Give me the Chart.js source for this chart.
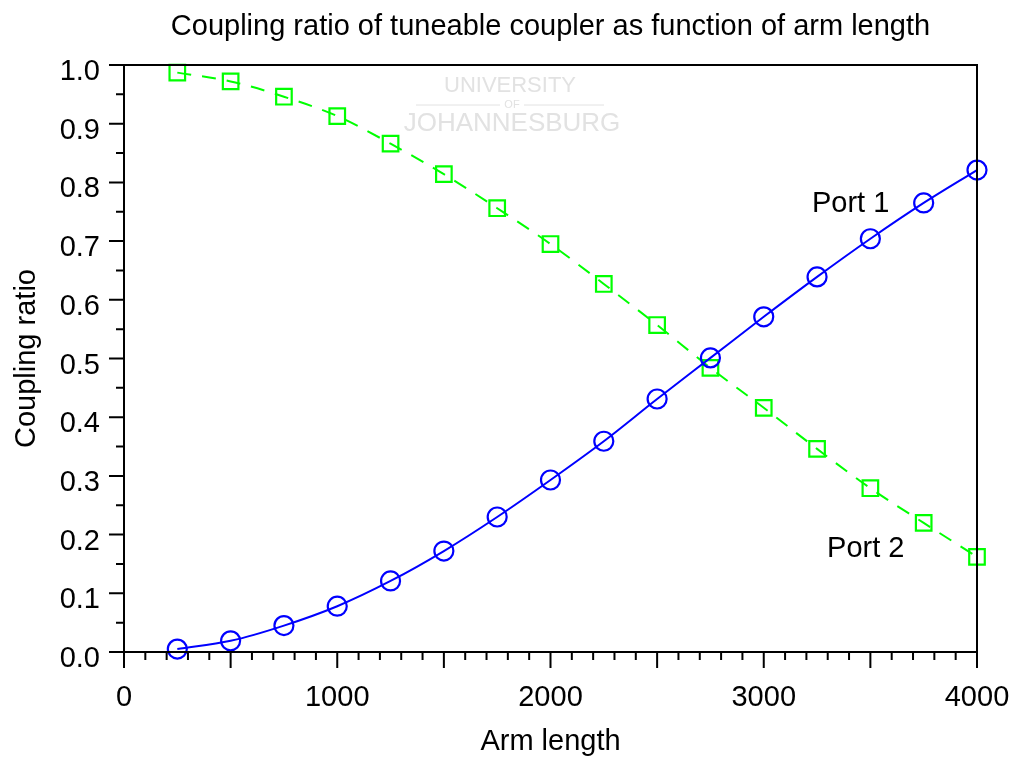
<!DOCTYPE html>
<html>
<head>
<meta charset="utf-8">
<script src="https://cdn.jsdelivr.net/npm/chart.js@4.4.1/dist/chart.umd.min.js"></script>
<style>
  html, body { margin: 0; padding: 0; background: #fff; }
  #wrap { width: 1020px; height: 763px; }
</style>
</head>
<body>
<div id="wrap"><canvas id="chart"></canvas></div>
<script>
"use strict";

// data
const armLength = [250, 500, 750, 1000, 1250, 1500, 1750, 2000, 2250, 2500, 2750, 3000, 3250, 3500, 3750, 4000];
const port1 = [0.005, 0.019, 0.045, 0.078, 0.121, 0.172, 0.230, 0.293, 0.359, 0.431, 0.501, 0.571, 0.639, 0.704, 0.765, 0.821];
const port2 = [0.987, 0.972, 0.946, 0.913, 0.866, 0.814, 0.756, 0.695, 0.627, 0.557, 0.484, 0.416, 0.346, 0.279, 0.220, 0.162];

const xTickLabels = [0, 1000, 2000, 3000, 4000];
const yTickLabels = [0.0, 0.1, 0.2, 0.3, 0.4, 0.5, 0.6, 0.7, 0.8, 0.9, 1.0];

// curve labels, placed in data coordinates
const labelText = ['Port 1', 'Port 2'];
const labelX = [3226, 3297];
const labelY = [0.763, 0.175];

const FONT = '"Liberation Sans", Arial, sans-serif';
const FS = 29;

function toPoints(xs, ys) {
  return xs.map((x, i) => ({ x: x, y: ys[i] }));
}

// frame, tick marks, curve labels and the faint watermark
const decorPlugin = {
  id: 'decor',
  beforeDatasetsDraw(chart) {
    const ctx = chart.ctx;
    ctx.save();
    ctx.fillStyle = '#e2e2e2';
    ctx.strokeStyle = '#e2e2e2';
    ctx.textAlign = 'center';
    ctx.textBaseline = 'middle';
    ctx.font = '22px ' + FONT;
    ctx.fillText('UNIVERSITY', 510, 86);
    ctx.font = '11px ' + FONT;
    ctx.fillText('OF', 512, 105);
    ctx.lineWidth = 1;
    ctx.beginPath();
    ctx.moveTo(416, 105); ctx.lineTo(500, 105);
    ctx.moveTo(524, 105); ctx.lineTo(604, 105);
    ctx.stroke();
    ctx.font = '26px ' + FONT;
    ctx.fillText('JOHANNESBURG', 512, 124);
    ctx.restore();
  },
  afterDraw(chart) {
    const ctx = chart.ctx;
    const a = chart.chartArea;
    const xs = chart.scales.x;
    const ys = chart.scales.y;
    ctx.save();
    ctx.strokeStyle = '#000';
    ctx.lineWidth = 2;
    ctx.strokeRect(a.left, a.top, a.right - a.left, a.bottom - a.top);
    ctx.beginPath();
    for (let v = 0; v <= 4000; v += 100) {
      const px = xs.getPixelForValue(v);
      const len = v % 500 === 0 ? 16 : 8;
      ctx.moveTo(px, a.bottom);
      ctx.lineTo(px, a.bottom + len);
    }
    for (let k = 0; k <= 20; k++) {
      const py = ys.getPixelForValue(k * 0.05);
      const len = k % 2 === 0 ? 15 : 8;
      ctx.moveTo(a.left, py);
      ctx.lineTo(a.left - len, py);
    }
    ctx.stroke();

    ctx.fillStyle = '#000';
    ctx.font = FS + 'px ' + FONT;
    ctx.textAlign = 'left';
    ctx.textBaseline = 'middle';
    labelText.forEach((t, i) => {
      ctx.fillText(t, xs.getPixelForValue(labelX[i]), ys.getPixelForValue(labelY[i]));
    });
    ctx.restore();
  }
};

const chart = new Chart(document.getElementById('chart'), {
  type: 'line',
  data: {
    datasets: [{
      label: 'Port 1',
      data: toPoints(armLength, port1),
      borderColor: '#0000ff',
      borderWidth: 2,
      pointStyle: 'circle',
      pointRadius: 9.5,
      pointBorderWidth: 2.2,
      pointBorderColor: '#0000ff',
      pointBackgroundColor: 'rgba(0,0,0,0)',
      cubicInterpolationMode: 'monotone',
      fill: false
    }, {
      label: 'Port 2',
      data: toPoints(armLength, port2),
      borderColor: '#00ff00',
      borderWidth: 2,
      borderDash: [14, 11],
      pointStyle: 'rect',
      pointRadius: 11,
      pointBorderWidth: 2.2,
      pointBorderColor: '#00ff00',
      pointBackgroundColor: 'rgba(0,0,0,0)',
      cubicInterpolationMode: 'monotone',
      fill: false
    }]
  },
  options: {
    responsive: true,
    maintainAspectRatio: false,
    animation: false,
    clip: false,
    layout: { padding: { left: 0, right: 43, top: 0, bottom: 0 } },
    plugins: {
      legend: { display: false },
      tooltip: { enabled: false },
      title: {
        display: true,
        fullSize: false,
        text: 'Coupling ratio of tuneable coupler as function of arm length',
        color: '#000',
        font: { family: FONT, size: FS, weight: 'normal', lineHeight: 1.2 },
        padding: { top: 10, bottom: 20.2 }
      }
    },
    scales: {
      x: {
        type: 'linear',
        min: 0,
        max: 4000,
        afterBuildTicks: (scale) => { scale.ticks = xTickLabels.map(v => ({ value: v })); },
        afterFit: (scale) => {
          scale.height = 111;
          scale.paddingLeft = 0;
          scale.paddingRight = 0;
        },
        ticks: {
          color: '#000',
          font: { family: FONT, size: FS },
          padding: 29,
          maxRotation: 0,
          autoSkip: false,
          callback: (v) => String(v)
        },
        grid: { display: false, drawTicks: false },
        border: { display: false },
        title: {
          display: true,
          text: 'Arm length',
          color: '#000',
          font: { family: FONT, size: FS, lineHeight: 1.2 },
          padding: { top: 0, bottom: 3.6 }
        }
      },
      y: {
        type: 'linear',
        min: 0,
        max: 1,
        afterBuildTicks: (scale) => { scale.ticks = yTickLabels.map(v => ({ value: v })); },
        afterFit: (scale) => {
          scale.width = 124;
          scale.paddingTop = 0;
          scale.paddingBottom = 0;
        },
        ticks: {
          color: '#000',
          font: { family: FONT, size: FS },
          padding: 24,
          labelOffset: 7,
          callback: (v) => Number(v).toFixed(1)
        },
        grid: { display: false, drawTicks: false },
        border: { display: false },
        title: {
          display: true,
          text: 'Coupling ratio',
          color: '#000',
          font: { family: FONT, size: FS, lineHeight: 1.2 },
          padding: { top: 9.6, bottom: 0 }
        }
      }
    }
  },
  plugins: [decorPlugin]
});
</script>
</body>
</html>
